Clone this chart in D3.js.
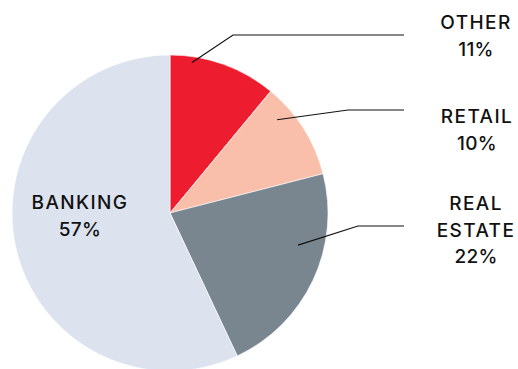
<!DOCTYPE html>
<html>
<head>
<meta charset="utf-8">
<script src="https://cdn.jsdelivr.net/npm/d3@7"></script>
<style>
  html, body { margin: 0; padding: 0; background: #fff; }
  svg { display: block; }
  text { font-family: Inter, "Open Sans", sans-serif; font-size: 19px; font-weight: 500; fill: #111; }
  tspan.word { letter-spacing: 1.4px; }
  tspan.pct { letter-spacing: 0.3px; }
</style>
</head>
<body>
<svg id="chart" width="518" height="369"></svg>
<script>
// Sector split, clockwise from 12 o'clock
const categories = ['OTHER', 'RETAIL', 'REAL ESTATE', 'BANKING'];
const shares = [11, 10, 22, 57];
const colors = ['#ed1c2e', '#f9bfab', '#7a868f', '#dce3ef'];

// Label placement (annotation layout, not data): text lines, anchor, leader line
// leader: t = fraction across the slice, r = radius of the start point,
// elbow/end = points in chart coords
const labelLayout = [
  { lines: ['OTHER'],           x: 476, y: 29,  leader: { t: 0.21, r: 152, elbow: [233, 35],  endX: 404 } },
  { lines: ['RETAIL'],          x: 477, y: 123, leader: { t: 0.26, r: 142, elbow: [348, 110], endX: 404 } },
  { lines: ['REAL', 'ESTATE'],  x: 476, y: 210, leader: { t: 0.36, r: 132, elbow: [358, 226], endX: 404 } },
  { lines: ['BANKING'],         x: 80,  y: 209, leader: null }
];

const svg = d3.select('#chart');
const cx = 170, cy = 213, radius = 158;
const lineH = 26.5;

const pie = d3.pie().sort(null).value(d => d);
const arcs = pie(shares);
const arc = d3.arc().innerRadius(0).outerRadius(radius);

const g = svg.append('g').attr('transform', `translate(${cx},${cy})`);

g.selectAll('path')
  .data(arcs)
  .join('path')
    .attr('d', arc)
    .attr('fill', (d, i) => colors[i])
    .attr('stroke', '#fff')
    .attr('stroke-width', 0.6);

// leader lines
arcs.forEach((d, i) => {
  const L = labelLayout[i].leader;
  if (!L) return;
  const a = d.startAngle + (d.endAngle - d.startAngle) * L.t;
  const sx = cx + L.r * Math.sin(a), sy = cy - L.r * Math.cos(a);
  svg.append('path')
    .attr('d', d3.line()([[sx, sy], L.elbow, [L.endX, L.elbow[1]]]))
    .attr('fill', 'none')
    .attr('stroke', '#111')
    .attr('stroke-width', 1.2);
});

// labels
arcs.forEach((d, i) => {
  const lay = labelLayout[i];
  const t = svg.append('text')
    .attr('text-anchor', 'middle')
    .attr('y', lay.y);
  lay.lines.forEach((s, k) => {
    t.append('tspan')
      .attr('class', 'word')
      .attr('x', lay.x)
      .attr('dy', k === 0 ? 0 : lineH)
      .text(s);
  });
  t.append('tspan')
    .attr('class', 'pct')
    .attr('x', lay.x)
    .attr('dy', lineH)
    .text(shares[i] + '%');
});
</script>
</body>
</html>
